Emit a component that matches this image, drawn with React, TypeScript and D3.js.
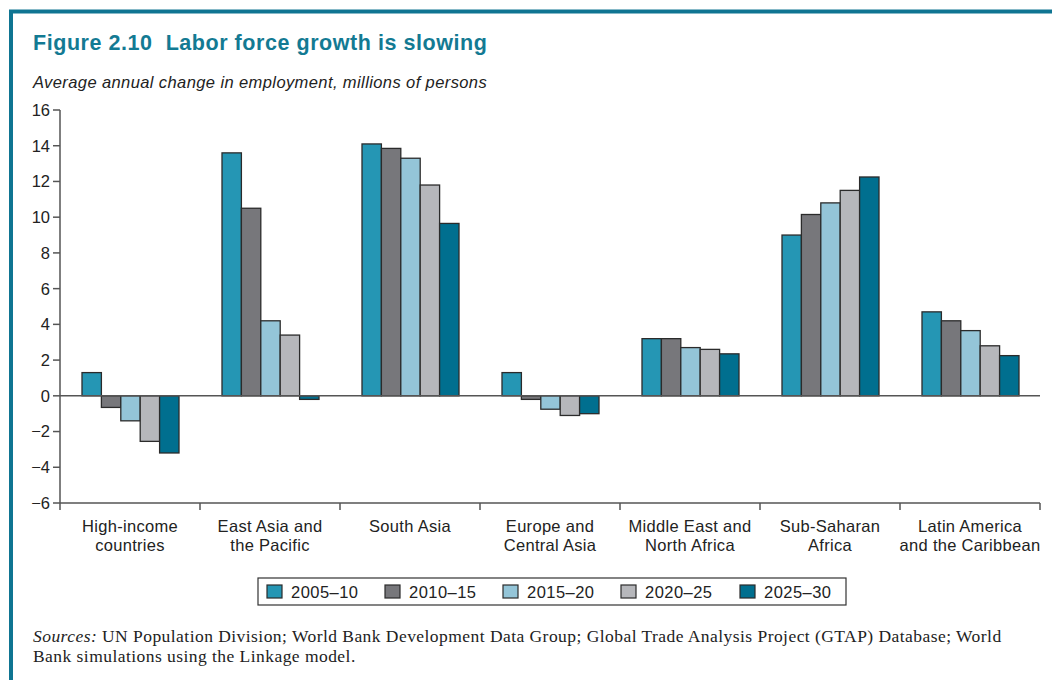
import React from "react";
import * as d3 from "d3";

const categories = [
  ["High-income", "countries"],
  ["East Asia and", "the Pacific"],
  ["South Asia"],
  ["Europe and", "Central Asia"],
  ["Middle East and", "North Africa"],
  ["Sub-Saharan", "Africa"],
  ["Latin America", "and the Caribbean"],
];
const seriesNames = ["2005–10", "2010–15", "2015–20", "2020–25", "2025–30"];
const seriesColors = ["#2596b4", "#77777b", "#94c5d8", "#b6b7bb", "#006f8f"];
const v2005 = [1.3, 13.6, 14.1, 1.3, 3.2, 9.0, 4.7];
const v2010 = [-0.65, 10.5, 13.85, -0.2, 3.2, 10.15, 4.2];
const v2015 = [-1.4, 4.2, 13.3, -0.75, 2.7, 10.8, 3.65];
const v2020 = [-2.55, 3.4, 11.8, -1.1, 2.6, 11.5, 2.8];
const v2025 = [-3.2, -0.2, 9.65, -1.0, 2.35, 12.25, 2.25];
const seriesValues = [v2005, v2010, v2015, v2020, v2025];
const yTicks = [-6, -4, -2, 0, 2, 4, 6, 8, 10, 12, 14, 16];

const W = 1052;
const H = 680;
const left = 60;
const right = 1040;
const top = 110;
const bottom = 503;
const teal = "#137a93";
const sans = "'Liberation Sans', Arial, Helvetica, sans-serif";
const serif = "'Liberation Serif', 'Times New Roman', serif";

export default function App() {
  const y = d3.scaleLinear().domain([-6, 16]).range([bottom, top]);
  const x0 = d3
    .scaleBand<number>()
    .domain(categories.map((_, i) => i))
    .range([left, right])
    .paddingInner(0)
    .paddingOuter(0);
  const x1 = d3
    .scaleBand<number>()
    .domain(seriesNames.map((_, i) => i))
    .range([22, 140 - 21])
    .padding(0);
  const fmt = (v: number) => (v < 0 ? "−" + Math.abs(v) : String(v));
  const legendX = [267, 385, 503, 621, 740];

  return (
    <svg
      width={W}
      height={H}
      style={{ position: "absolute", left: 0, top: 0, background: "#fff" }}
      fontFamily={sans}
    >
      {/* frame */}
      <path d={`M11,${H} L11,11.5 L${W},11.5`} fill="none" stroke="#0f7592" strokeWidth={4} />
      <text x={33} y={49.5} fill={teal} fontSize={21.5} fontWeight="bold" letterSpacing={0.55}>
        Figure 2.10{"\u00a0\u00a0"}Labor force growth is slowing
      </text>
      <text x={33} y={88} fill="#222" fontSize={16.5} fontStyle="italic" letterSpacing={0.4}>
        Average annual change in employment, millions of persons
      </text>

      {/* y axis */}
      <line x1={left} x2={left} y1={top} y2={bottom} stroke="#555" strokeWidth={1.5} />
      {yTicks.map((t) => (
        <g key={t}>
          <line x1={left - 7} x2={left} y1={y(t)} y2={y(t)} stroke="#555" strokeWidth={1.5} />
          <text x={50} y={y(t)} dy="0.36em" textAnchor="end" fontSize={16.5} fill="#222">
            {fmt(t)}
          </text>
        </g>
      ))}
      {/* x axis */}
      <line x1={left} x2={right} y1={bottom} y2={bottom} stroke="#555" strokeWidth={1.5} />
      {categories.map((_, i) => (
        <line
          key={i}
          x1={x0(i)!}
          x2={x0(i)!}
          y1={bottom}
          y2={bottom + 7}
          stroke="#555"
          strokeWidth={1.5}
        />
      ))}
      <line x1={right} x2={right} y1={bottom} y2={bottom + 7} stroke="#555" strokeWidth={1.5} />

      {/* bars */}
      {seriesValues.map((vals, s) =>
        vals.map((v, i) => {
          const bx = x0(i)! + x1(s)!;
          const y0 = y(0);
          const yv = y(v);
          return (
            <rect
              key={`${s}-${i}`}
              x={bx}
              y={Math.min(y0, yv)}
              width={x1.bandwidth()}
              height={Math.abs(yv - y0)}
              fill={seriesColors[s]}
              stroke="#2b2b2b"
              strokeWidth={1.3}
            />
          );
        })
      )}
      {/* zero line */}
      <line x1={left} x2={right} y1={y(0)} y2={y(0)} stroke="#555" strokeWidth={1.5} />

      {/* category labels */}
      {categories.map((lines, i) => (
        <text
          key={i}
          x={x0(i)! + x0.bandwidth() / 2}
          y={531.5}
          textAnchor="middle"
          fontSize={16.5}
          letterSpacing={0.3}
          fill="#222"
        >
          {lines.map((l, j) => (
            <tspan key={j} x={x0(i)! + x0.bandwidth() / 2} dy={j === 0 ? 0 : 19.5}>
              {l}
            </tspan>
          ))}
        </text>
      ))}

      {/* legend */}
      <rect x={258} y={578} width={588} height={27} fill="#fff" stroke="#333" strokeWidth={1.2} />
      {seriesNames.map((n, s) => (
        <g key={n}>
          <rect
            x={legendX[s]}
            y={585}
            width={15}
            height={13}
            fill={seriesColors[s]}
            stroke="#2b2b2b"
            strokeWidth={1.2}
          />
          <text x={legendX[s] + 24} y={597.5} fontSize={16.5} letterSpacing={0.45} fill="#222">
            {n}
          </text>
        </g>
      ))}

      {/* sources */}
      <text x={33} y={642} fontFamily={serif} fontSize={17.5} letterSpacing={0.45} fill="#222">
        <tspan fontStyle="italic">Sources:</tspan> UN Population Division; World Bank Development Data
        Group; Global Trade Analysis Project (GTAP) Database; World
      </text>
      <text x={33} y={662} fontFamily={serif} fontSize={17.5} letterSpacing={0.45} fill="#222">
        Bank simulations using the Linkage model.
      </text>
    </svg>
  );
}
